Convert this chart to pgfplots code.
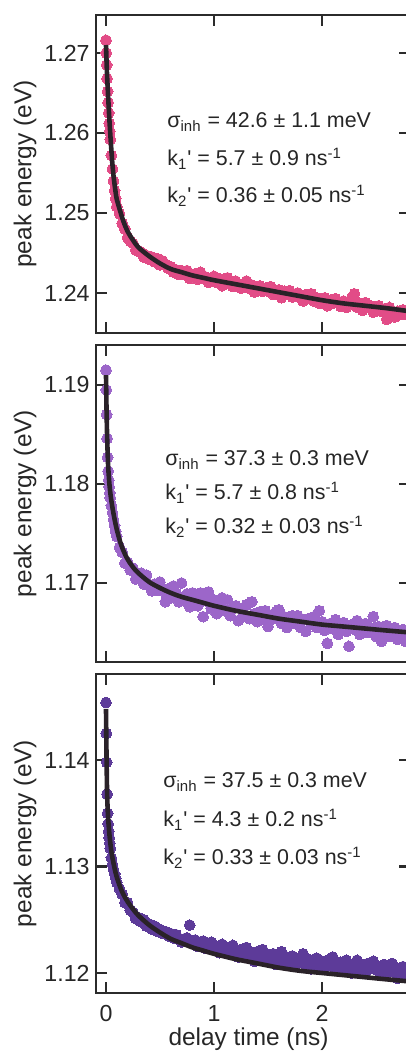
\documentclass[border=0pt]{standalone}
\usepackage{pgfplots}
\pgfplotsset{compat=1.18}
\usepackage{fontspec}
\setmainfont{Liberation Sans}
\definecolor{c1}{HTML}{E24C87}
\definecolor{c2}{HTML}{9C66C9}
\definecolor{c3}{HTML}{5D3B99}
\definecolor{fitc}{HTML}{2A2228}
\definecolor{axc}{HTML}{2B2B2B}
\definecolor{txt}{HTML}{262626}
\newcommand\ticfont{\fontsize{11.6}{13}\selectfont}
\newcommand\labfont{\fontsize{12.2}{14}\selectfont}
\newcommand\annfont{\fontsize{10.7}{12}\selectfont}
\pgfplotsset{
 mystyle/.style={
  scale only axis, width=157pt,
  xmin=-0.0926, xmax=2.815,
  clip mode=individual, clip marker paths=true,
  axis line style={line width=1.4pt, color=axc},
  tick style={line width=1.3pt, color=axc},
  major tick length=5.5pt,
  tick align=inside,
  xtick={0,1,2}, xtick pos=both, ytick pos=both,
  minor tick num=0,
  yticklabel style={font=\ticfont, text=txt, inner sep=0pt, xshift=-3pt},
  xticklabel style={font=\ticfont, text=txt, inner sep=0pt, yshift=-6pt},
  ylabel={peak energy (eV)},
  ylabel style={font=\labfont, text=txt, inner sep=0pt, at={(axis description cs:-0.2261,0.5)}, anchor=center},
 },
 dots/.style={only marks, mark=*, mark size=2.7pt, color=#1, mark options={line width=0pt}},
 fitline/.style={fitc, line width=2.3pt, smooth, no marks},
}
\begin{document}
\begin{tikzpicture}
\useasboundingbox (0,0) rectangle (203pt,525.5pt);
\clip (0,0) rectangle (203pt,525.5pt);
% ---------------- panel 1
\begin{axis}[mystyle, at={(48pt,359pt)}, anchor=south west, height=159pt,
 ymin=1.235, ymax=1.27475, ytick={1.24,1.25,1.26,1.27}, yticklabels={1.24,1.25,1.26,1.27}, xticklabels={}]
\addplot[dots=c1] coordinates {
(0,1.2716)(0.003,1.2700)(0.006,1.2685)(0.01,1.2668)(0.015,1.2652)(0.02,1.2638)(0.025,1.2625)(0.03,1.2612)(0.035,1.2602)(0.04,1.2592)(0.05,1.2572)(0.06,1.2555)(0.07,1.2540)(0.08,1.2528)(0.09,1.2518)(0.1,1.2508)
(0.125,1.2499)(0.15,1.2487)(0.175,1.2480)(0.2,1.2469)(0.225,1.2465)(0.25,1.2462)(0.275,1.2454)(0.3,1.2452)(0.325,1.2451)(0.35,1.2445)(0.375,1.2447)(0.4,1.2442)
(0.425,1.2445)(0.45,1.2439)(0.475,1.2443)(0.5,1.2435)(0.525,1.2440)(0.55,1.2436)(0.575,1.2431)(0.6,1.2433)(0.625,1.2426)(0.65,1.2429)(0.675,1.2423)(0.7,1.2428)
(0.725,1.2423)(0.75,1.2428)(0.775,1.2418)(0.8,1.2422)(0.825,1.2424)(0.85,1.2417)(0.875,1.2426)(0.9,1.2418)(0.925,1.2420)(0.95,1.2413)(0.975,1.2418)(1.0,1.2421)
(1.025,1.2413)(1.05,1.2418)(1.075,1.2409)(1.1,1.2414)(1.125,1.2419)(1.15,1.2411)(1.175,1.2408)(1.2,1.2415)(1.225,1.2410)(1.25,1.2406)(1.275,1.2411)(1.3,1.2415)
(1.325,1.2406)(1.35,1.2410)(1.375,1.2401)(1.4,1.2407)(1.425,1.2409)(1.45,1.2402)(1.475,1.2406)(1.5,1.2402)(1.525,1.2408)(1.55,1.2398)(1.575,1.2402)(1.6,1.2404)
(1.625,1.2394)(1.65,1.2402)(1.675,1.2398)(1.7,1.2403)(1.725,1.2395)(1.75,1.2398)(1.775,1.2400)(1.8,1.2394)(1.825,1.2390)(1.85,1.2398)(1.875,1.2394)(1.9,1.2399)
(1.925,1.2390)(1.95,1.2394)(1.975,1.2387)(2.0,1.2392)(2.025,1.2394)(2.05,1.2384)(2.075,1.2391)(2.1,1.2387)(2.125,1.2393)(2.15,1.2387)(2.175,1.2383)(2.2,1.2390)
(2.225,1.2382)(2.25,1.2387)(2.275,1.2393)(2.3,1.2399)(2.325,1.2382)(2.35,1.2387)(2.375,1.2378)(2.4,1.2388)(2.425,1.2382)(2.45,1.2384)(2.475,1.2376)(2.5,1.2380)
(2.525,1.2384)(2.55,1.2377)(2.575,1.2380)(2.6,1.2367)(2.625,1.2382)(2.65,1.2376)(2.675,1.2370)(2.7,1.2377)(2.725,1.2373)(2.75,1.2379)(2.775,1.2373)(2.8,1.2374)
};
\addplot[fitline] coordinates {
(0,1.2710)(0.005,1.2690)(0.01,1.2672)(0.015,1.2658)(0.02,1.2645)(0.03,1.2620)(0.04,1.2598)(0.05,1.2578)(0.06,1.2560)(0.07,1.2546)(0.08,1.2535)(0.09,1.2525)(0.1,1.2517)
(0.13,1.2503)(0.16,1.2490)(0.2,1.2477)(0.25,1.2466)(0.3,1.2457)(0.4,1.2446)(0.5,1.2437)(0.6,1.2430)(0.7,1.2426)(0.8,1.2422)(0.9,1.2419)(1.0,1.2416)
(1.2,1.2411)(1.4,1.2406)(1.6,1.2401)(1.8,1.2396)(2.0,1.2391)(2.2,1.2387)(2.4,1.2384)(2.6,1.2381)(2.82,1.2377)
};
\end{axis}
% ---------------- panel 2
\begin{axis}[mystyle, at={(48pt,194.5pt)}, anchor=south west, height=158.5pt,
 ymin=1.16202, ymax=1.19404, ytick={1.17,1.18,1.19}, yticklabels={1.17,1.18,1.19}, xticklabels={}]
\addplot[dots=c2] coordinates {
(0,1.1915)(0.003,1.1895)(0.006,1.1870)(0.01,1.1846)(0.015,1.1827)(0.02,1.1813)(0.025,1.1804)(0.03,1.1797)(0.035,1.1791)(0.04,1.1786)(0.05,1.1778)(0.06,1.1771)(0.07,1.1764)(0.08,1.1758)(0.09,1.1752)(0.1,1.1747)
(0.125,1.1736)(0.15,1.1731)(0.175,1.1720)(0.2,1.1721)(0.225,1.1713)(0.25,1.1715)(0.275,1.1704)(0.3,1.1706)(0.325,1.1710)(0.35,1.1699)(0.375,1.1708)(0.4,1.1698)
(0.425,1.1692)(0.45,1.1699)(0.475,1.1693)(0.5,1.1701)(0.525,1.1692)(0.55,1.1681)(0.575,1.1694)(0.6,1.1685)(0.625,1.1697)(0.65,1.1690)(0.675,1.1681)(0.7,1.1700)
(0.725,1.1682)(0.75,1.1689)(0.775,1.1676)(0.8,1.1690)(0.825,1.1683)(0.85,1.1677)(0.875,1.1690)(0.9,1.1666)(0.925,1.1682)(0.95,1.1691)(0.975,1.1674)(1.0,1.1683)
(1.025,1.1669)(1.05,1.1678)(1.075,1.1685)(1.1,1.1672)(1.125,1.1683)(1.15,1.1667)(1.175,1.1674)(1.2,1.1677)(1.225,1.1662)(1.25,1.1674)(1.275,1.1668)(1.3,1.1678)
(1.325,1.1664)(1.35,1.1681)(1.375,1.1669)(1.4,1.1661)(1.425,1.1671)(1.45,1.1664)(1.475,1.1672)(1.5,1.1656)(1.525,1.1667)(1.55,1.1664)(1.575,1.1671)(1.6,1.1673)
(1.625,1.1659)(1.65,1.1666)(1.675,1.1655)(1.7,1.1664)(1.725,1.1667)(1.75,1.1659)(1.775,1.1667)(1.8,1.1655)(1.825,1.1663)(1.85,1.1651)(1.875,1.1664)(1.9,1.1659)
(1.925,1.1666)(1.95,1.1655)(1.975,1.1672)(2.0,1.1661)(2.025,1.1652)(2.05,1.1639)(2.075,1.1659)(2.1,1.1654)(2.125,1.1663)(2.15,1.1648)(2.175,1.1657)(2.2,1.1660)
(2.225,1.1651)(2.25,1.1636)(2.275,1.1658)(2.3,1.1653)(2.325,1.1662)(2.35,1.1648)(2.375,1.1655)(2.4,1.1659)(2.425,1.1650)(2.45,1.1655)(2.475,1.1666)(2.5,1.1646)
(2.525,1.1656)(2.55,1.1641)(2.575,1.1650)(2.6,1.1657)(2.625,1.1646)(2.65,1.1653)(2.675,1.1655)(2.7,1.1643)(2.725,1.1648)(2.75,1.1653)(2.775,1.1641)(2.8,1.1646)
};
\addplot[fitline] coordinates {
(0,1.1910)(0.005,1.1875)(0.01,1.1850)(0.015,1.1832)(0.02,1.1818)(0.03,1.1802)(0.04,1.1791)(0.05,1.1783)(0.06,1.1776)(0.08,1.1764)(0.1,1.1754)
(0.13,1.1742)(0.16,1.1733)(0.2,1.1724)(0.25,1.1716)(0.3,1.1710)(0.4,1.1701)(0.5,1.1695)(0.6,1.1690)(0.7,1.1686)(0.8,1.1683)(0.9,1.1680)(1.0,1.1677)
(1.2,1.1672)(1.4,1.1668)(1.6,1.1664)(1.8,1.1661)(2.0,1.1658)(2.2,1.1656)(2.4,1.1654)(2.6,1.1652)(2.82,1.1650)
};
\end{axis}
% ---------------- panel 3
\begin{axis}[mystyle, at={(48pt,29pt)}, anchor=south west, height=159.5pt,
 ymin=1.11812, ymax=1.14808, ytick={1.12,1.13,1.14}, yticklabels={1.12,1.13,1.14}, xticklabels={0,1,2},
 xlabel={delay time (ns)},
 xlabel style={font=\labfont, text=txt, inner sep=0pt, at={(axis description cs:0.4857,0)}, anchor=north, yshift=-17pt}]
\addplot[dots=c3] coordinates {
(0,1.1454)(0.003,1.1425)(0.006,1.1398)(0.01,1.1368)(0.015,1.1350)(0.02,1.1340)(0.025,1.1333)(0.03,1.1327)(0.035,1.1322)(0.04,1.1317)(0.05,1.1308)(0.06,1.1302)(0.07,1.1297)(0.08,1.1293)(0.09,1.1289)(0.1,1.1285)
(0.125,1.1279)(0.15,1.1274)(0.175,1.1266)(0.2,1.1266)(0.225,1.1259)(0.25,1.1257)(0.275,1.1251)(0.3,1.1252)(0.325,1.1248)(0.35,1.1250)(0.375,1.1244)(0.4,1.1246)
(0.425,1.1241)(0.45,1.1244)(0.475,1.1239)(0.5,1.1241)(0.525,1.1237)(0.55,1.1239)(0.575,1.1235)(0.6,1.1237)(0.625,1.1233)(0.65,1.1236)(0.675,1.1232)(0.7,1.1229)
(0.725,1.1232)(0.75,1.1233)(0.775,1.1245)(0.8,1.1228)(0.825,1.1231)(0.85,1.1225)(0.875,1.1228)(0.9,1.1230)(0.925,1.1223)(0.95,1.1227)(0.975,1.1229)(1.0,1.1223)
(1.025,1.1225)(1.05,1.1219)(1.075,1.1227)(1.1,1.1222)(1.125,1.1224)(1.15,1.1218)(1.175,1.1226)(1.2,1.1220)(1.225,1.1215)(1.25,1.1222)(1.275,1.1217)(1.3,1.1224)
(1.325,1.1215)(1.35,1.1219)(1.375,1.1211)(1.4,1.1220)(1.425,1.1215)(1.45,1.1222)(1.475,1.1211)(1.5,1.1217)(1.525,1.1212)(1.55,1.1218)(1.575,1.1208)(1.6,1.1214)
(1.625,1.1220)(1.65,1.1209)(1.675,1.1215)(1.7,1.1211)(1.725,1.1216)(1.75,1.1207)(1.775,1.1212)(1.8,1.1210)(1.825,1.1218)(1.85,1.1207)(1.875,1.1213)(1.9,1.1204)
(1.925,1.1210)(1.95,1.1214)(1.975,1.1207)(2.0,1.1211)(2.025,1.1205)(2.05,1.1212)(2.075,1.1207)(2.1,1.1215)(2.125,1.1203)(2.15,1.1208)(2.175,1.1210)(2.2,1.1204)
(2.225,1.1212)(2.25,1.1206)(2.275,1.1200)(2.3,1.1208)(2.325,1.1212)(2.35,1.1203)(2.375,1.1208)(2.4,1.1201)(2.425,1.1209)(2.45,1.1204)(2.475,1.1211)(2.5,1.1203)
(2.525,1.1206)(2.55,1.1198)(2.575,1.1208)(2.6,1.1204)(2.625,1.1201)(2.65,1.1209)(2.675,1.1205)(2.7,1.1195)(2.725,1.1202)(2.75,1.1206)(2.775,1.1198)(2.8,1.1203)
};
\addplot[fitline] coordinates {
(0,1.1448)(0.005,1.1403)(0.01,1.1370)(0.015,1.1355)(0.02,1.1345)(0.03,1.1332)(0.04,1.1322)(0.05,1.1314)(0.06,1.1308)(0.08,1.1298)(0.1,1.1290)
(0.13,1.1281)(0.16,1.1274)(0.2,1.1267)(0.25,1.1260)(0.3,1.1254)(0.4,1.1245)(0.5,1.1238)(0.6,1.1232)(0.7,1.1228)(0.8,1.1224)(0.9,1.1221)(1.0,1.1218)
(1.2,1.1213)(1.4,1.1209)(1.6,1.1205)(1.8,1.1202)(2.0,1.1200)(2.2,1.1198)(2.4,1.1196)(2.6,1.1194)(2.82,1.1192)
};
\end{axis}
% ---------------- annotations
\begin{scope}[every node/.style={anchor=base west, inner sep=0pt, font=\annfont, text=txt}]
\node at (83.5pt,461.5pt) {σ\textsubscript{inh} = 42.6 ± 1.1 meV};
\node at (83.5pt,442.5pt) {k\textsubscript{1}\textquotesingle{} = 5.7 ± 0.9 ns\textsuperscript{-1}};
\node at (83.5pt,424pt) {k\textsubscript{2}\textquotesingle{} = 0.36 ± 0.05 ns\textsuperscript{-1}};
\node at (82.5pt,292.5pt) {σ\textsubscript{inh} = 37.3 ± 0.3 meV};
\node at (82.5pt,275.5pt) {k\textsubscript{1}\textquotesingle{} = 5.7 ± 0.8 ns\textsuperscript{-1}};
\node at (82.5pt,258.5pt) {k\textsubscript{2}\textquotesingle{} = 0.32 ± 0.03 ns\textsuperscript{-1}};
\node at (81.5pt,131.5pt) {σ\textsubscript{inh} = 37.5 ± 0.3 meV};
\node at (81.5pt,112pt) {k\textsubscript{1}\textquotesingle{} = 4.3 ± 0.2 ns\textsuperscript{-1}};
\node at (81.5pt,93pt) {k\textsubscript{2}\textquotesingle{} = 0.33 ± 0.03 ns\textsuperscript{-1}};
\end{scope}
\end{tikzpicture}
\end{document}
